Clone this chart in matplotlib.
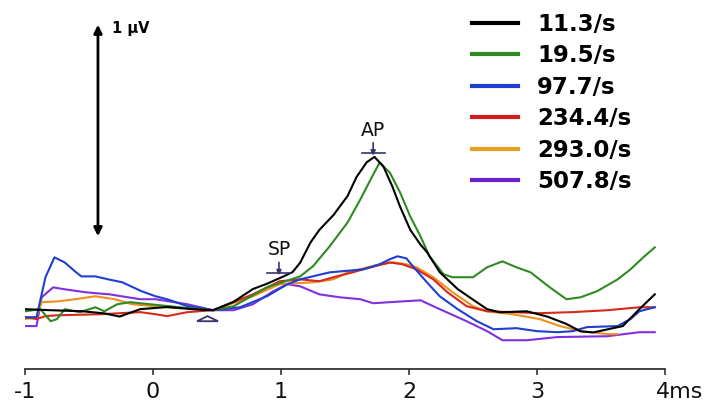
import numpy as np
import matplotlib.pyplot as plt
from matplotlib.transforms import ScaledTranslation

# time in ms, amplitude in microvolts
black_t = [-1.0, -0.8, -0.55, -0.38, -0.26, -0.1, 0.11, 0.31, 0.47, 0.63, 0.78, 0.89, 1.02, 1.09, 1.15,
           1.23, 1.3, 1.41, 1.52, 1.59, 1.67, 1.73, 1.8, 1.87, 1.93, 2.01, 2.09, 2.14, 2.24, 2.38, 2.5,
           2.61, 2.71, 2.92, 3.08, 3.23, 3.34, 3.44, 3.67, 3.8, 3.92]
black_v = [0.005, 0.0, -0.005, -0.015, -0.03, 0.005, 0.015, 0.005, 0.0, 0.04, 0.1, 0.125, 0.16, 0.18, 0.225,
           0.32, 0.38, 0.45, 0.54, 0.63, 0.7, 0.725, 0.68, 0.585, 0.49, 0.38, 0.31, 0.275, 0.18, 0.1, 0.05,
           0.005, -0.01, -0.005, -0.03, -0.065, -0.1, -0.105, -0.075, 0.005, 0.075]

green_t = [-1.0, -0.88, -0.8, -0.75, -0.69, -0.57, -0.45, -0.38, -0.28, -0.18, -0.02, 0.21, 0.47, 0.63,
           0.89, 1.15, 1.25, 1.38, 1.52, 1.62, 1.7, 1.77, 1.85, 1.93, 2.01, 2.09, 2.16, 2.27, 2.34, 2.5,
           2.61, 2.73, 2.84, 2.95, 3.1, 3.23, 3.34, 3.47, 3.63, 3.73, 3.83, 3.92]
green_v = [-0.005, 0.005, -0.052, -0.042, 0.005, -0.009, 0.014, -0.005, 0.028, 0.038, 0.028, 0.014, 0.0, 0.019,
           0.108, 0.16, 0.208, 0.302, 0.415, 0.524, 0.618, 0.698, 0.651, 0.557, 0.443, 0.349, 0.255, 0.17,
           0.156, 0.156, 0.203, 0.231, 0.203, 0.179, 0.108, 0.052, 0.061, 0.09, 0.146, 0.193, 0.25, 0.297]

blue_t = [-1.0, -0.91, -0.84, -0.77, -0.69, -0.61, -0.56, -0.45, -0.35, -0.24, -0.09, 0.02, 0.11, 0.27,
          0.47, 0.68, 0.89, 1.05, 1.15, 1.38, 1.64, 1.77, 1.85, 1.91, 1.98, 2.03, 2.14, 2.24, 2.38, 2.53,
          2.66, 2.84, 3.0, 3.16, 3.28, 3.39, 3.63, 3.73, 3.8, 3.92]
blue_v = [-0.033, -0.033, 0.156, 0.25, 0.226, 0.184, 0.16, 0.16, 0.146, 0.132, 0.09, 0.066, 0.052, 0.019,
          0.0, 0.014, 0.066, 0.123, 0.146, 0.179, 0.193, 0.217, 0.241, 0.255, 0.245, 0.208, 0.132, 0.066,
          0.005, -0.052, -0.09, -0.085, -0.099, -0.104, -0.099, -0.08, -0.075, -0.042, -0.005, 0.014]

red_t = [-1.0, -0.91, -0.84, -0.75, -0.41, -0.1, 0.02, 0.11, 0.27, 0.47, 0.78, 0.99, 1.15, 1.3, 1.41,
         1.56, 1.64, 1.85, 1.95, 2.06, 2.19, 2.3, 2.45, 2.61, 2.81, 3.02, 3.28, 3.55, 3.8, 3.92]
red_v = [-0.033, -0.042, -0.028, -0.024, -0.019, -0.009, -0.019, -0.028, -0.009, 0.0, 0.075, 0.137, 0.146,
         0.137, 0.156, 0.179, 0.193, 0.226, 0.217, 0.193, 0.146, 0.085, 0.019, -0.005, -0.009, -0.014,
         -0.009, 0.0, 0.014, 0.014]

orange_t = [-1.0, -0.91, -0.87, -0.74, -0.61, -0.45, -0.3, -0.16, 0.11, 0.37, 0.47, 0.78, 0.99, 1.25, 1.41,
            1.52, 1.77, 1.88, 1.98, 2.06, 2.19, 2.34, 2.5, 2.61, 2.81, 3.02, 3.18, 3.34, 3.55, 3.63]
orange_v = [-0.042, -0.033, 0.038, 0.042, 0.052, 0.066, 0.052, 0.028, 0.014, 0.005, 0.0, 0.066, 0.123, 0.132,
            0.146, 0.179, 0.217, 0.226, 0.217, 0.203, 0.156, 0.085, 0.019, -0.005, -0.019, -0.042, -0.075,
            -0.099, -0.113, -0.113]

purple_t = [-1.0, -0.91, -0.87, -0.78, -0.69, -0.53, -0.34, -0.1, 0.02, 0.27, 0.47, 0.63, 0.78, 0.94, 1.05,
            1.15, 1.3, 1.46, 1.62, 1.72, 1.85, 2.09, 2.24, 2.45, 2.61, 2.73, 2.92, 3.16, 3.55, 3.8, 3.92]
purple_v = [-0.075, -0.075, 0.061, 0.108, 0.099, 0.085, 0.075, 0.052, 0.052, 0.028, 0.0, 0.0, 0.028, 0.09,
            0.123, 0.113, 0.075, 0.061, 0.052, 0.033, 0.038, 0.047, 0.005, -0.052, -0.099, -0.142, -0.142,
            -0.127, -0.123, -0.104, -0.104]

labels = ['11.3/s', '19.5/s', '97.7/s', '234.4/s', '293.0/s', '507.8/s']
colors = ['#000000', '#2f8a22', '#1f3fd0', '#d41c1c', '#e8a020', '#6a22c8']
trace_colors = ['#000000', '#2f8a22', '#1f3fd0', '#d42a1c', '#f0901c', '#8030e0']

fig = plt.figure(figsize=(7.14, 4.04), dpi=100)
ax = fig.add_axes([25 / 714, 35 / 404, 640 / 714, 369 / 404])

series = [(black_t, black_v), (green_t, green_v), (blue_t, blue_v),
          (red_t, red_v), (orange_t, orange_v), (purple_t, purple_v)]
# draw in reverse so black ends on top
for i in [5, 4, 3, 2, 1, 0]:
    t, v = series[i]
    ax.plot(t, v, color=trace_colors[i], lw=1.5, solid_joinstyle='round')

ax.set_xlim(-1, 4)
ax.set_ylim(-0.278, 1.467)

for s in ['left', 'top', 'right']:
    ax.spines[s].set_visible(False)
ax.spines['bottom'].set_color('#333333')
ax.spines['bottom'].set_linewidth(1.3)
ax.set_yticks([])
ax.set_xticks([-1, 0, 1, 2, 3, 4])
ax.set_xticklabels(['-1', '0', '1', '2', '3', '4ms'])
ax.tick_params(axis='x', direction='out', length=4, width=1.2, color='#333333',
               labelsize=16, pad=5, labelcolor='#111111')
last = ax.get_xticklabels()[-1]
last.set_horizontalalignment('left')
last.set_transform(last.get_transform() + ScaledTranslation(-9 / 100, 0, fig.dpi_scale_trans))

# 1 uV scale bar
ax.annotate('', xy=(-0.43, 1.35), xytext=(-0.43, 0.35),
            arrowprops=dict(arrowstyle='<|-|>', color='black', lw=2, mutation_scale=12,
                            shrinkA=0, shrinkB=0))
ax.text(-0.32, 1.33, '1 µV', fontsize=10.5, fontweight='bold', va='center', ha='left')

# SP and AP markers
mark_col = '#35356e'
for tm, top, bot, name in [(0.984, 0.226, 0.165, 'SP'), (1.72, 0.792, 0.731, 'AP')]:
    ax.annotate('', xy=(tm, bot), xytext=(tm, top),
                arrowprops=dict(arrowstyle='-|>', color=mark_col, lw=1.2, mutation_scale=7,
                                shrinkA=0, shrinkB=0))
    ax.plot([tm - 0.09, tm + 0.09], [bot + 0.012, bot + 0.012], color=mark_col, lw=1.2)
    ax.text(tm, top + 0.015, name, fontsize=13.5, ha='center', va='bottom', color='#111111')

# baseline triangle
ax.fill([0.344, 0.508, 0.426, 0.344], [-0.052, -0.052, -0.028, -0.052],
        facecolor='none', edgecolor=mark_col, lw=1.3)

# legend
handles = [plt.Line2D([], [], color=c, lw=3) for c in colors]
leg = fig.legend(handles, labels, loc='upper left', bbox_to_anchor=(472 / 714, 1 - 13 / 404),
                 frameon=False, borderpad=0, borderaxespad=0, handlelength=2.0, handletextpad=0.85,
                 labelspacing=0.37, prop={'size': 16.5, 'weight': 'bold'})

fig.savefig('out.png', dpi=100)
